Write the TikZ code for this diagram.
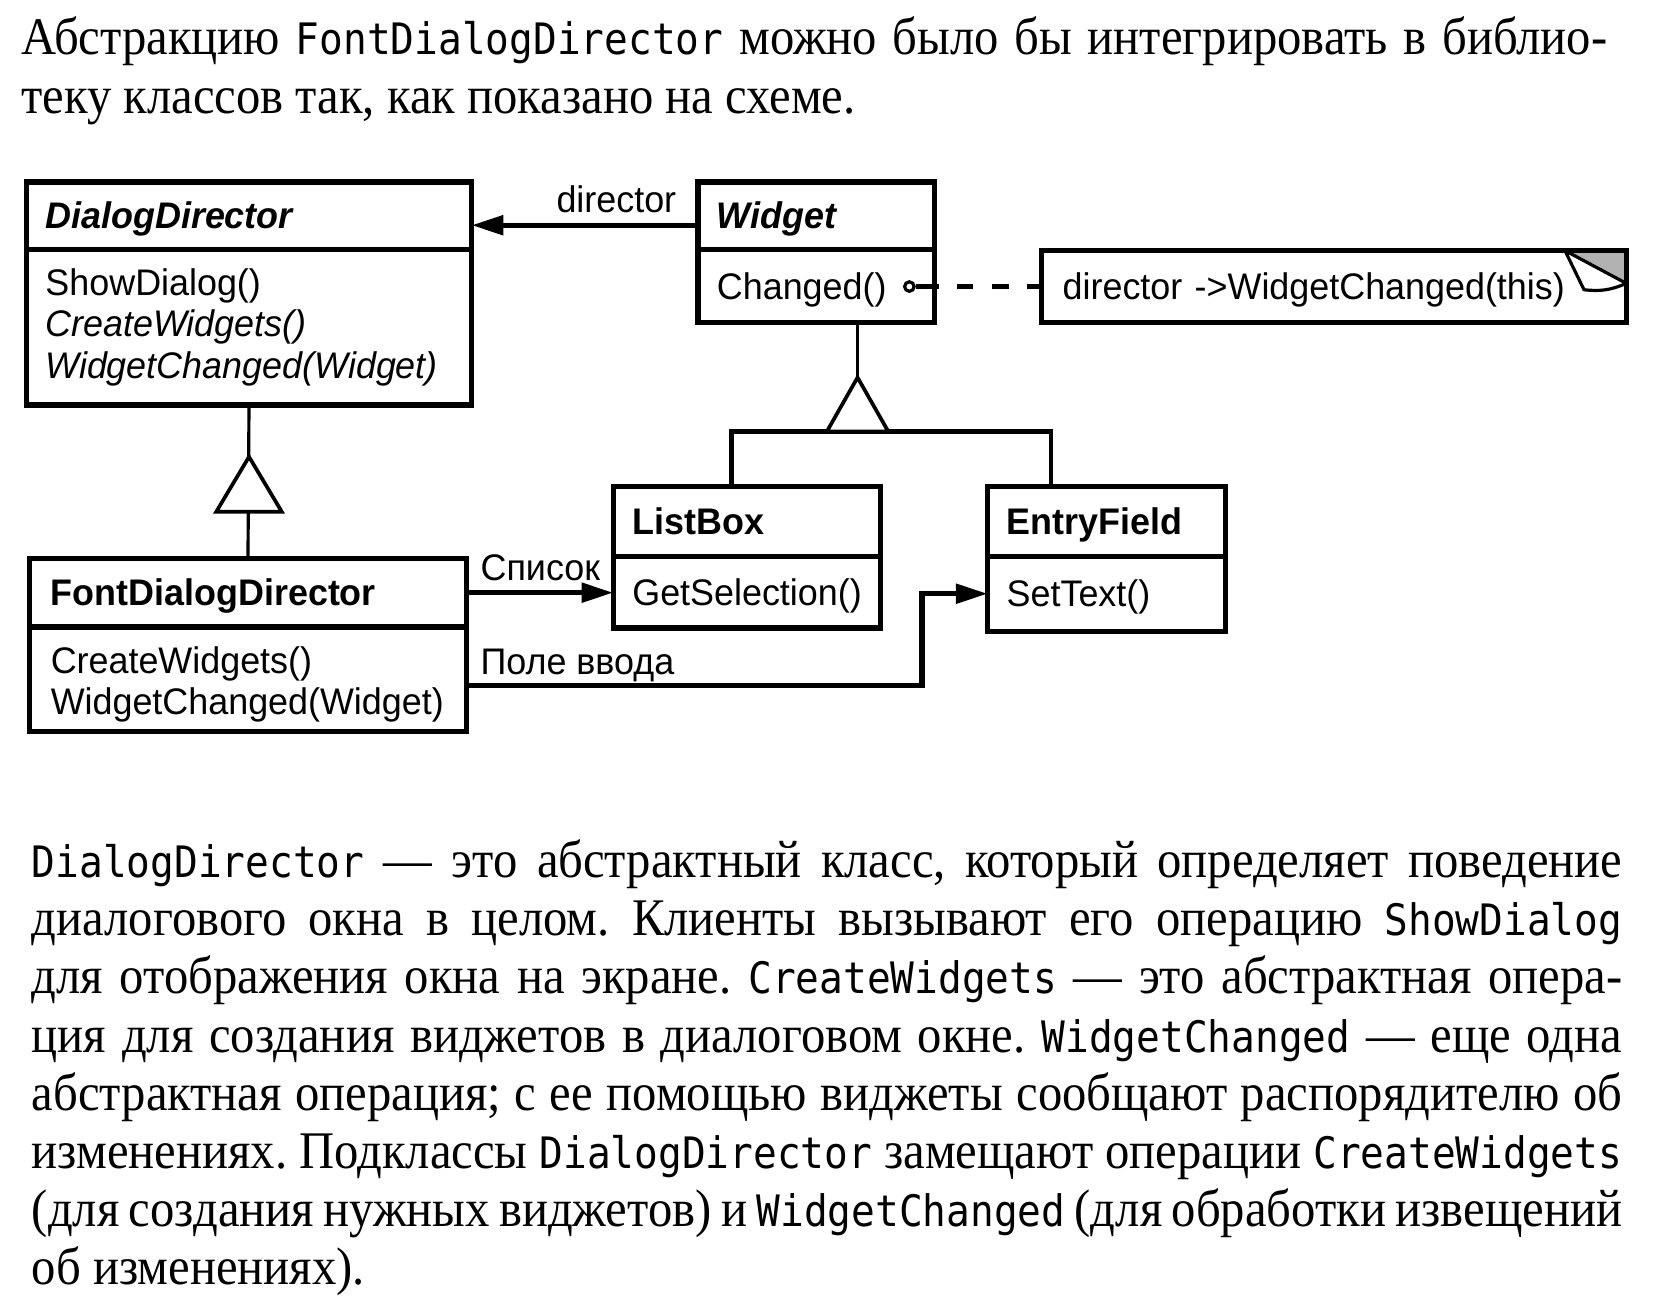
\documentclass[tikz,border=0pt]{standalone}
\usepackage{fontspec}
\setmainfont{Liberation Serif}[FakeStretch=0.92]
\newfontfamily\umlfont{Liberation Sans}[FakeStretch=0.97]
\newfontfamily\codefont{DejaVu Sans Mono}[FakeStretch=0.91,Scale=0.82]
\newcommand{\code}[1]{{\codefont #1}}
\usetikzlibrary{arrows.meta}
\hyphenpenalty=10000
\tolerance=10000
\frenchspacing

\begin{document}
\begin{tikzpicture}[x=1pt,y=-1pt,
    clsbox/.style={draw,line width=5pt,outer sep=0pt,anchor=north west,inner xsep=18pt,inner ysep=0pt,align=left,
      font=\umlfont\fontsize{35}{39}\selectfont},
    oneline/.style={text height=27pt,text depth=2pt},
    assoc/.style={line width=5pt,-{Triangle[length=30pt,width=18pt]}},
    thinln/.style={line width=3pt},
    busln/.style={line width=4.5pt},
    inhtri/.style={line width=3.5pt,fill=white},
    lbl/.style={inner sep=0pt,font=\umlfont\fontsize{35}{39}\selectfont},
    para/.style={anchor=base west,inner sep=0pt,align=justify,font=\fontsize{50}{55}\selectfont}]
  \useasboundingbox (0,0) rectangle (1568,1236);

  \node at (20,52) [para,text width=1500pt] (intro) {Абстракцию \code{FontDialogDirector} можно было бы интегрировать в библио-\linebreak
    теку классов так, как показано на схеме.};

  \node at (25,172) [clsbox,oneline,text width=385pt,minimum height=64pt] (dd) {\bfseries\itshape DialogDirector};
  \node at (dd.south west) [clsbox,text width=385pt,text height=21pt,text depth=81pt,minimum height=147pt] (ddops) {ShowDialog()\\\textit{CreateWidgets()}\\\textit{WidgetChanged(Widget)}};
  \node at (660,172) [clsbox,oneline,text width=188pt,minimum height=64pt] (w) {\bfseries\itshape Widget};
  \node at (w.south west) [clsbox,oneline,text width=188pt,minimum height=69pt] (wops) {Changed()};
  \node at (985,237) [clsbox,oneline,inner xsep=20pt,text width=513pt,minimum height=68pt] (note) {director ->WidgetChanged(this)};
  \node at (580,460) [clsbox,oneline,text width=217pt,minimum height=66pt] (lb) {\bfseries ListBox};
  \node at (lb.south west) [clsbox,oneline,text width=217pt,minimum height=68pt] (lbops) {GetSelection()};
  \node at (934,460) [clsbox,oneline,text width=189pt,minimum height=66pt] (ef) {\bfseries EntryField};
  \node at (ef.south west) [clsbox,oneline,text width=189pt,minimum height=71pt] (efops) {SetText()};
  \node at (28,528) [clsbox,oneline,inner xsep=20pt,text width=373pt,minimum height=65pt] (fdd) {\bfseries FontDialogDirector};
  \node at (fdd.south west) [clsbox,inner xsep=20pt,text width=373pt,text height=27pt,text depth=39pt,minimum height=99pt] (fddops) {CreateWidgets()\\WidgetChanged(Widget)};

  \fill[gray!60] ([xshift=-58pt]note.north east) -- (note.north east) -- ([yshift=-31pt]note.north east) -- cycle;
  \draw[line width=5pt] ([xshift=-60pt]note.north east) -| ([yshift=-33pt]note.north east);
  \draw[line width=3pt,fill=white,line join=round] ([xshift=-58pt]note.north east) -- ([xshift=-40pt,yshift=-37pt]note.north east)
    to[bend right=15] ([yshift=-31pt]note.north east) -- cycle;

  \draw[assoc] ([yshift=-9pt]w.west) -- ([yshift=-9pt]dd.east) node[pos=0,anchor=base east,xshift=-18pt,yshift=12pt,lbl] (dirlbl) {director};

  \node at (860,271) [circle,draw,line width=3pt,minimum size=9pt,inner sep=0pt,fill=white] (chg) {};
  \draw[line width=4pt,dash pattern=on 22pt off 17pt on 15pt off 18pt on 16pt off 17pt on 20pt] (chg.east) -- (note.west);

  \coordinate (wtri) at (811,357);
  \coordinate (wbar) at (811,408);
  \draw[thinln] (wtri |- wops.south) -- (wtri);
  \draw[busln] ([xshift=-14.5pt]lb.north) |- (wbar) -| ([xshift=-52.5pt]ef.north);
  \draw[inhtri] (wtri) -- ++(-29,51) -- ++(58,0) -- cycle;

  \draw[thinln] (ddops.south) -- (fdd.north);
  \draw[inhtri] ([yshift=-49pt]ddops.south) -- ++(-31,52) -- ++(62,0) -- cycle;

  \draw[assoc] (fdd.east) node[anchor=base west,xshift=11pt,yshift=11.5pt,lbl] (listlbl) {Список} -- (fdd.east -| lbops.west);
  \draw[assoc] ([yshift=-5.5pt]fddops.east) node[anchor=base west,xshift=11pt,yshift=10.5pt,lbl] (fieldlbl) {Поле ввода}
    -- ++(431,0) |- (efops.west);

  \node at (30,830) [para,text width=1504pt] (body) {\code{DialogDirector} — это абстрактный класс, который определяет поведение\linebreak
    диалогового окна в целом. Клиенты вызывают его операцию \code{ShowDialog}\linebreak
    для отображения окна на экране. \code{CreateWidgets} — это абстрактная опера-\linebreak
    ция для создания виджетов в диалоговом окне. \code{WidgetChanged} — еще одна\linebreak
    абстрактная операция; с ее помощью виджеты сообщают распорядителю об\linebreak
    изменениях. Подклассы \code{DialogDirector} замещают операции \code{CreateWidgets}\linebreak
    (для создания нужных виджетов) и \code{WidgetChanged} (для обработки извещений\linebreak
    об изменениях).};
\end{tikzpicture}
\end{document}
